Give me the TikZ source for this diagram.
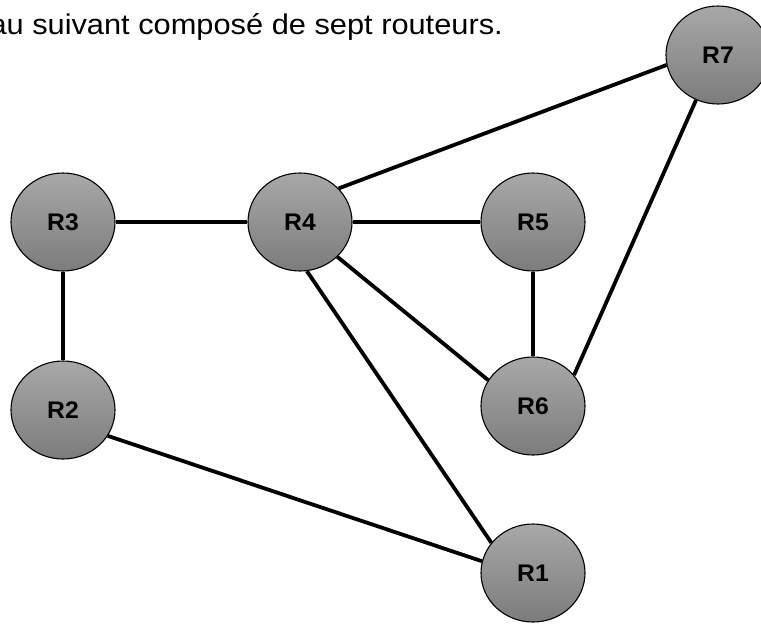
\documentclass[tikz,border=0pt]{standalone}
\usepackage{fontspec}
\setmainfont{Liberation Sans}
\newfontfamily\widesans[FakeStretch=1.08]{Liberation Sans}
\newfontfamily\labelsans[FakeStretch=1.03]{Liberation Sans}
\usetikzlibrary{shapes.geometric}
\definecolor{routertop}{RGB}{168,168,168}
\definecolor{routerbot}{RGB}{124,124,124}
\tikzset{
  router/.style={ellipse, draw=black, line width=1.1pt,
    top color=routertop, bottom color=routerbot,
    minimum width=104pt, minimum height=98pt, inner sep=0pt,
    font=\labelsans\fontsize{24}{28}\selectfont\bfseries},
  link/.style={line width=3.8pt, black}
}
\begin{document}
\begin{tikzpicture}[x=1pt,y=-1pt]
\useasboundingbox (0,0) rectangle (761,625);
% heading line
\node[anchor=base east, inner sep=0pt, font=\widesans\fontsize{28.5}{34}\selectfont]
  (title) at (503,34) {au suivant composé de sept routeurs.};
% routers
\node[router] (R3) at (63,222)  {R3};
\node[router] (R4) at (300,222) {R4};
\node[router] (R5) at (533,222) {R5};
\node[router] (R2) at (63,410)  {R2};
\node[router] (R6) at (533,406) {R6};
\node[router] (R1) at (533,573) {R1};
\node[router] (R7) at (718,55)  {R7};
% links
\draw[link] (R3.east) -- (R4.west);
\draw[link] (R4.east) -- (R5.west);
\draw[link] (R3.south) -- (R2.north);
\draw[link] (R5.south) -- (R6.north);
\draw[link] (R4.41) -- (R7.-169);
\draw[link] (R4.-43) -- (R6.150);
\draw[link] (R4.-82) -- (R1.144);
\draw[link] (R7.-116) -- (R6.37);
\draw[link] (R2.-30) -- (R1.167);
\end{tikzpicture}
\end{document}
